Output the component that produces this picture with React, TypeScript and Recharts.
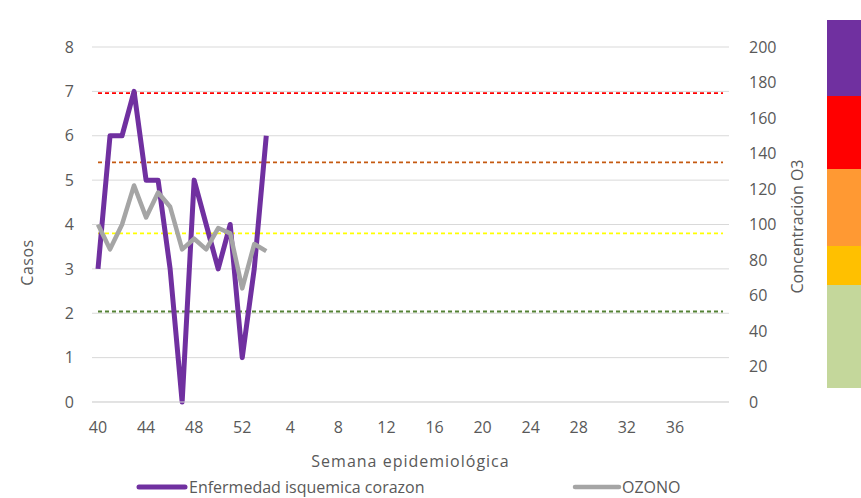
import React from 'react';
import { LineChart, Line, XAxis, YAxis, CartesianGrid } from 'recharts';

// semanas epidemiológicas 40..52 y 1..40
const semanas = [
    '40', '41', '42', '43', '44', '45', '46', '47', '48', '49', '50', '51', '52',
    '1', '2', '3', '4', '5', '6', '7', '8', '9', '10', '11', '12', '13', '14', '15', '16',
    '17', '18', '19', '20', '21', '22', '23', '24', '25', '26', '27', '28', '29', '30',
    '31', '32', '33', '34', '35', '36', '37', '38', '39', '40',
];

const casos = [3, 6, 6, 7, 5, 5, 3, 0, 5, 4, 3, 4, 1, 3, 6];
const ozono = [100, 86, 100, 122, 104, 118, 110, 86, 92, 86, 98, 95, 64, 89, 85];

const umbrales = [
    { key: 'muyDanino', valor: 174, color: '#ff0000' },
    { key: 'danino', valor: 135, color: '#c55a11' },
    { key: 'sensibles', valor: 95, color: '#ffff00' },
    { key: 'aceptable', valor: 51, color: '#548235' },
];

const ticksCasos = [0, 1, 2, 3, 4, 5, 6, 7, 8];
const ticksOzono = [0, 20, 40, 60, 80, 100, 120, 140, 160, 180, 200];

const bandas = [
    { color: '#7030a0', alto: 76 },
    { color: '#ff0000', alto: 73 },
    { color: '#ff9933', alto: 77 },
    { color: '#ffc000', alto: 39 },
    { color: '#c4d79b', alto: 103 },
];

const purple = '#7030a0';
const gray = '#a5a5a5';
const textColor = '#595959';
const font = '"Open Sans", sans-serif';

const data = semanas.map((semana, i) => {
    const row: Record<string, string | number | null> = {
        semana,
        casos: i < casos.length ? casos[i] : null,
        ozono: i < ozono.length ? ozono[i] : null,
    };
    umbrales.forEach(u => { row[u.key] = u.valor; });
    return row;
});

function tituloEje(viewBox: any, value: string, angle: number, dx: number, dy: number, spacing = 0) {
    const cx = viewBox.x + viewBox.width / 2 + dx;
    const cy = viewBox.y + viewBox.height / 2 + dy;
    return (
        <text
            x={cx}
            y={cy}
            textAnchor="middle"
            dominantBaseline="central"
            fill={textColor}
            fontSize={16}
            fontFamily={font}
            letterSpacing={spacing}
            transform={angle ? `rotate(${angle} ${cx} ${cy})` : undefined}
        >
            {value}
        </text>
    );
}

export default function App() {
    const tick = { fill: textColor, fontSize: 16, fontFamily: font };

    return (
        <div style={{ position: 'absolute', left: 0, top: 0, width: 861, height: 498, background: '#fff', fontFamily: font }}>
            <LineChart width={861} height={498} data={data} margin={{ top: 47, right: 52, bottom: 36, left: 0 }}>
                <CartesianGrid yAxisId="left" vertical={false} stroke="#d9d9d9" strokeWidth={1} />
                <XAxis
                    dataKey="semana"
                    padding={{ left: 6, right: 6 }}
                    interval={3}
                    height={60}
                    tick={tick}
                    tickLine={false}
                    tickMargin={14}
                    stroke="#d9d9d9"
                    tickFormatter={(v: string, i: number) => (v === '40' && i > 0 ? '' : v)}
                    label={{ position: 'center', content: (p: any) => tituloEje(p.viewBox, 'Semana epidemiológica', 0, 0, 29, 1) }}
                />
                <YAxis
                    yAxisId="left"
                    width={92}
                    domain={[0, 8]}
                    ticks={ticksCasos}
                    tick={tick}
                    axisLine={false}
                    tickLine={false}
                    tickMargin={12}
                    label={{ position: 'center', content: (p: any) => tituloEje(p.viewBox, 'Casos', -90, -19, 38, 0.5) }}
                />
                <YAxis
                    yAxisId="right"
                    orientation="right"
                    width={80}
                    domain={[0, 200]}
                    ticks={ticksOzono}
                    tick={{ ...tick, textAnchor: 'start' }}
                    axisLine={false}
                    tickLine={false}
                    tickMargin={14}
                    label={{ position: 'center', content: (p: any) => tituloEje(p.viewBox, 'Concentración O3', -90, 28, 2) }}
                />
                {umbrales.map(u => (
                    <Line
                        key={u.key}
                        yAxisId="right"
                        dataKey={u.key}
                        stroke={u.color}
                        strokeWidth={1.8}
                        strokeDasharray="4 3"
                        dot={false}
                        activeDot={false}
                        isAnimationActive={false}
                    />
                ))}
                <Line
                    yAxisId="left"
                    dataKey="casos"
                    stroke={purple}
                    strokeWidth={5}
                    strokeLinejoin="round"
                    dot={false}
                    connectNulls={false}
                    isAnimationActive={false}
                />
                <Line
                    yAxisId="right"
                    dataKey="ozono"
                    stroke={gray}
                    strokeWidth={4.5}
                    strokeLinejoin="round"
                    dot={false}
                    connectNulls={false}
                    isAnimationActive={false}
                />
            </LineChart>

            {/* leyenda */}
            <div style={{ position: 'absolute', left: 136, top: 476, height: 22, display: 'flex', alignItems: 'center', color: textColor, fontSize: 16 }}>
                <svg width={52} height={10}><line x1={3} y1={5} x2={49} y2={5} stroke={purple} strokeWidth={5} strokeLinecap="round" /></svg>
                <span style={{ marginLeft: 1 }}>Enfermedad isquemica corazon</span>
            </div>
            <div style={{ position: 'absolute', left: 572, top: 476, height: 22, display: 'flex', alignItems: 'center', color: textColor, fontSize: 16 }}>
                <svg width={50} height={10}><line x1={3} y1={5} x2={47} y2={5} stroke={gray} strokeWidth={4.5} strokeLinecap="round" /></svg>
                <span style={{ marginLeft: 0 }}>OZONO</span>
            </div>

            {/* escala de colores */}
            <div style={{ position: 'absolute', left: 827, top: 20, width: 34, display: 'flex', flexDirection: 'column' }}>
                {bandas.map(b => (
                    <div key={b.color} style={{ height: b.alto, background: b.color }} />
                ))}
            </div>
        </div>
    );
}
